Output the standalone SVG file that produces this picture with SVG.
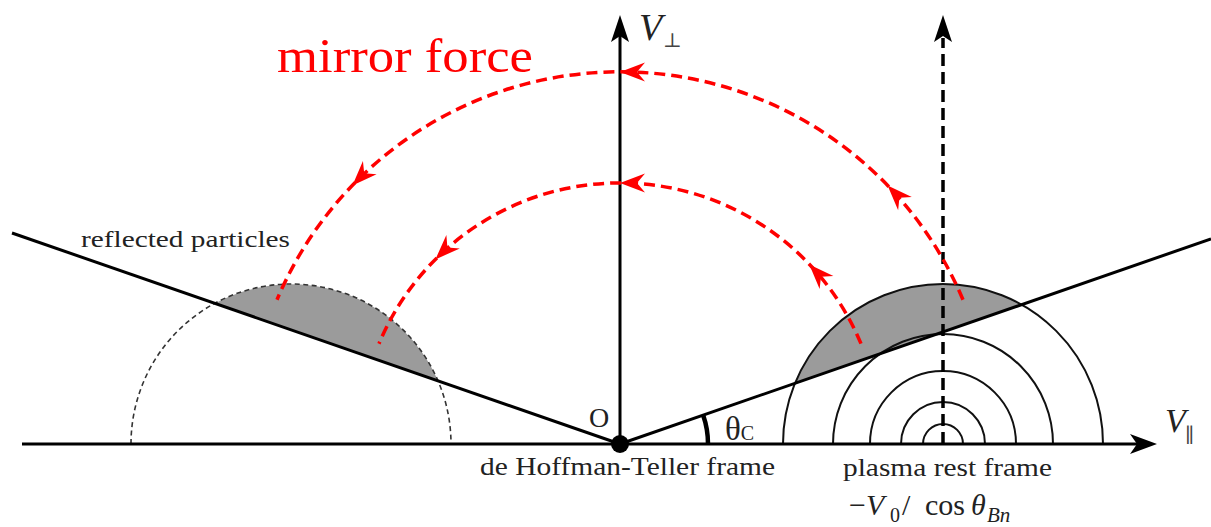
<svg xmlns="http://www.w3.org/2000/svg" width="1211" height="527" viewBox="0 0 1211 527">
<style>
.ax{stroke:#000;stroke-width:3;fill:none}
.circ{stroke:#111;stroke-width:2;fill:none}
.dcirc{stroke:#333;stroke-width:1.6;fill:none;stroke-dasharray:5 3.5}
.gray{fill:#9b9b9b;stroke:none}
.red{stroke:#ff0000;stroke-width:3.5;fill:none;stroke-dasharray:11 6}
.rh{fill:#ff0000}
.bh{fill:#000}
</style>
<defs>
<path id="rarrow" d="M0,0 L-25,-9.5 L-17,0 L-25,9.5 Z"/>
</defs>
<g id="regions">
<path class="gray" d="M215,303.5 A160,160 0 0 1 438,380.8 Z"/>
<path class="gray" d="M794.9,383.3 A160,160 0 0 1 1021.6,304.6 Z"/>
</g>
<g id="left-dist">
<path class="dcirc" d="M131,444 A160,160 0 0 1 451,444"/>
</g>
<g id="rest-dist">
<path class="circ" d="M783,444 A160,160 0 0 1 1103,444"/>
<path class="circ" d="M833,444 A110,110 0 0 1 1053,444"/>
<path class="circ" d="M870,444 A73,73 0 0 1 1016,444"/>
<path class="circ" d="M901,444 A42,42 0 0 1 985,444"/>
<path class="circ" d="M923,444 A20,20 0 0 1 963,444"/>
</g>
<g id="axes">
<line class="ax" x1="22" y1="444" x2="1138" y2="444"/>
<path class="bh" d="M1157,444 L1130,434 L1137,444 L1130,454 Z"/>
<line class="ax" x1="620" y1="444" x2="620" y2="36"/>
<path class="bh" d="M620,15 L611,42 L620,36 L629,42 Z"/>
<line class="ax" x1="943" y1="444" x2="943" y2="38" style="stroke-dasharray:12 6;stroke-width:3.5"/>
<path class="bh" d="M943,15 L934,42 L943,36 L952,42 Z"/>
</g>
<g id="cones">
<line class="ax" x1="620" y1="444" x2="12" y2="233"/>
<line class="ax" x1="620" y1="444" x2="1211" y2="238.9"/>
<path d="M708,444 A88,88 0 0 0 703.1,415.1" stroke="#000" stroke-width="4.5" fill="none"/>
</g>
<g id="origin">
<circle cx="620" cy="444" r="9" fill="#000"/>
<text x="599" y="427" font-size="28" text-anchor="middle" style="font-family:'Liberation Serif',serif;fill:#222">O</text>
</g>
<g id="connectors">
<path class="red" d="M963,299.8 A372,372 0 0 0 277,299.8"/>
<path class="red" d="M861,343.7 A261,261 0 0 0 379,343.7"/>
<use href="#rarrow" class="rh" transform="translate(887.6,185.6) rotate(226)"/>
<use href="#rarrow" class="rh" transform="translate(620,72) rotate(180)"/>
<use href="#rarrow" class="rh" transform="translate(352.4,185.6) rotate(134)"/>
<use href="#rarrow" class="rh" transform="translate(809.3,264.4) rotate(226.5)"/>
<use href="#rarrow" class="rh" transform="translate(620,183) rotate(180)"/>
<use href="#rarrow" class="rh" transform="translate(435.4,259.4) rotate(135)"/>
</g>
<g id="labels" style="font-family:'Liberation Serif',serif;fill:#222">
<text x="277" y="72" font-size="48" style="fill:#ff0000" textLength="256" lengthAdjust="spacingAndGlyphs">mirror force</text>
<text x="639" y="40" font-size="38" font-style="italic">V</text>
<text x="663" y="47" font-size="20" style="font-family:'DejaVu Serif',serif;fill:#444">⊥</text>
<text x="1165" y="432" font-size="34" font-style="italic">V</text>
<text x="1185" y="442" font-size="20" style="font-family:'DejaVu Serif',serif;fill:#444">∥</text>
<text x="81" y="247" font-size="24" textLength="209" lengthAdjust="spacingAndGlyphs">reflected particles</text>
<text x="480" y="475" font-size="26" textLength="295" lengthAdjust="spacingAndGlyphs">de Hoffman-Teller frame</text>
<text x="843" y="476" font-size="26" textLength="209" lengthAdjust="spacingAndGlyphs">plasma rest frame</text>
<text x="725" y="440" font-size="33">θ<tspan font-size="20">C</tspan></text>
<text y="515" font-size="30"><tspan x="849">−</tspan><tspan x="866" font-style="italic">V</tspan><tspan x="890" y="522" font-size="20">0</tspan><tspan x="902" y="515">/</tspan><tspan x="925">cos</tspan><tspan x="971" font-style="italic">θ</tspan><tspan x="987" y="522" font-size="21" font-style="italic">Bn</tspan></text>
</g>
</svg>
